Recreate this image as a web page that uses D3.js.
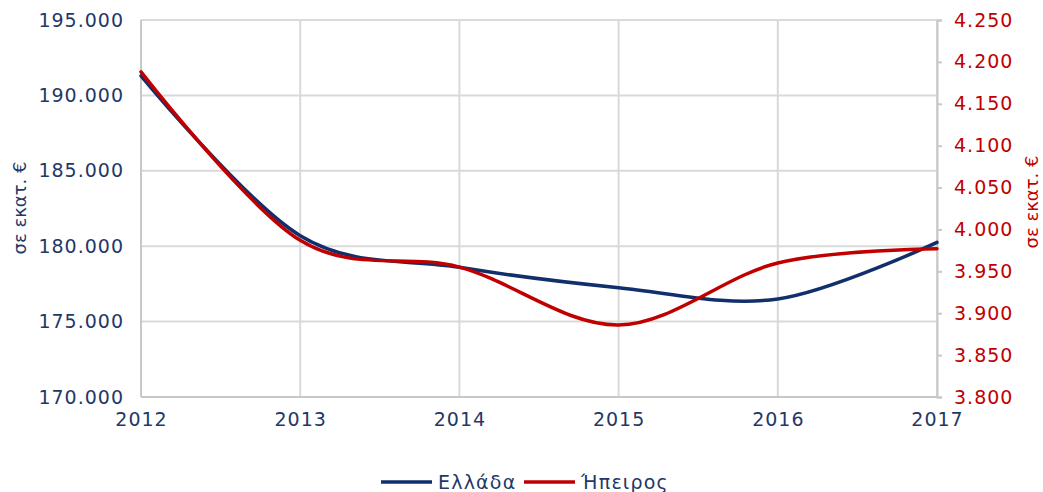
<!DOCTYPE html>
<html>
<head>
<meta charset="utf-8">
<script src="https://cdn.jsdelivr.net/npm/d3@7"></script>
<style>
  body { margin: 0; background: #fff; }
  text { font-family: "DejaVu Sans", Verdana, sans-serif; }
</style>
</head>
<body>
<svg id="chart"></svg>
<script>
// data
var years = [2012, 2013, 2014, 2015, 2016, 2017];
var ellada = [191300, 180700, 178600, 177250, 176500, 180250];   // left axis
var ipeiros = [4188, 3987, 3955, 3886, 3960, 3977];             // right axis
var leftTicks = [170000, 175000, 180000, 185000, 190000, 195000];
var rightTicks = [3800, 3850, 3900, 3950, 4000, 4050, 4100, 4150, 4200, 4250];

var width = 1043, height = 492;
var navy = "#112f6b", red = "#c00000", navyText = "#1f3868", grid = "#d9d9d9";

var svg = d3.select("#chart").attr("width", width).attr("height", height);

var x = d3.scaleLinear().domain([2012, 2017]).range([141, 937]);
var yL = d3.scaleLinear().domain([170000, 195000]).range([397, 20]);
var yR = d3.scaleLinear().domain([3800, 4250]).range([397, 20]);

// greek style thousands separator
var fmt = function(v) { return d3.format(",.0f")(v).replace(/,/g, "."); };

// gridlines
svg.append("g").selectAll("line").data(leftTicks).enter().append("line")
  .attr("x1", 141).attr("x2", 937)
  .attr("y1", function(d) { return yL(d); }).attr("y2", function(d) { return yL(d); })
  .attr("stroke", grid).attr("stroke-width", 2);
svg.append("g").selectAll("line").data(years).enter().append("line")
  .attr("x1", function(d) { return x(d); }).attr("x2", function(d) { return x(d); })
  .attr("y1", 20).attr("y2", 397)
  .attr("stroke", grid).attr("stroke-width", 2);

// axis lines
svg.append("line").attr("x1", 141).attr("x2", 141).attr("y1", 20).attr("y2", 397)
  .attr("stroke", "#c8c8c8").attr("stroke-width", 2);
svg.append("line").attr("x1", 141).attr("x2", 937).attr("y1", 397).attr("y2", 397)
  .attr("stroke", "#c8c8c8").attr("stroke-width", 2);

// left axis
var gl = svg.append("g").attr("transform", "translate(141,0)")
  .call(d3.axisLeft(yL).tickValues(leftTicks).tickFormat(fmt).tickSize(0).tickPadding(17));
gl.select(".domain").remove();
gl.selectAll("text").attr("fill", navyText).style("font-size", "19px").style("letter-spacing", "1px");

// right axis
var gr = svg.append("g").attr("transform", "translate(937,0)")
  .call(d3.axisRight(yR).tickValues(rightTicks).tickFormat(fmt).tickSize(5).tickPadding(12));
gr.select(".domain").attr("stroke", "#c8c8c8").attr("stroke-width", 2);
gr.selectAll("line").attr("stroke", "#c8c8c8").attr("stroke-width", 2);
gr.selectAll("text").attr("fill", red).style("font-size", "19px").style("letter-spacing", "1px");

// bottom axis
var gb = svg.append("g").attr("transform", "translate(0,397)")
  .call(d3.axisBottom(x).tickValues(years).tickFormat(d3.format("d")).tickSize(0).tickPadding(16));
gb.select(".domain").remove();
gb.selectAll("text").attr("fill", navyText).style("font-size", "19px").style("letter-spacing", "1px");

// axis titles
svg.append("text").attr("transform", "translate(26,208) rotate(-90)")
  .attr("text-anchor", "middle").attr("fill", navyText).style("font-size", "18px").text("σε εκατ. €");
svg.append("text").attr("transform", "translate(1038,202) rotate(-90)")
  .attr("text-anchor", "middle").attr("fill", red).style("font-size", "18px").text("σε εκατ. €");

// lines
var lineL = d3.line().curve(d3.curveCardinal.tension(0))
  .x(function(d, i) { return x(years[i]); }).y(function(d) { return yL(d); });
var lineR = d3.line().curve(d3.curveCardinal.tension(0))
  .x(function(d, i) { return x(years[i]); }).y(function(d) { return yR(d); });

svg.append("path").attr("d", lineL(ellada)).attr("fill", "none")
  .attr("stroke", navy).attr("stroke-width", 3.5).attr("stroke-linecap", "round");
svg.append("path").attr("d", lineR(ipeiros)).attr("fill", "none")
  .attr("stroke", red).attr("stroke-width", 3.5).attr("stroke-linecap", "round");

// legend
var legend = [{name: "Ελλάδα", color: navy, x: 381}, {name: "Ήπειρος", color: red, x: 524}];
var lg = svg.append("g").selectAll("g").data(legend).enter().append("g");
lg.append("line").attr("x1", function(d) { return d.x; }).attr("x2", function(d) { return d.x + 51; })
  .attr("y1", 482).attr("y2", 482).attr("stroke", function(d) { return d.color; }).attr("stroke-width", 3.5);
lg.append("text").attr("x", function(d) { return d.x + 57; }).attr("y", 489)
  .attr("fill", navyText).style("font-size", "19px").style("letter-spacing", "1.2px")
  .text(function(d) { return d.name; });
</script>
</body>
</html>
